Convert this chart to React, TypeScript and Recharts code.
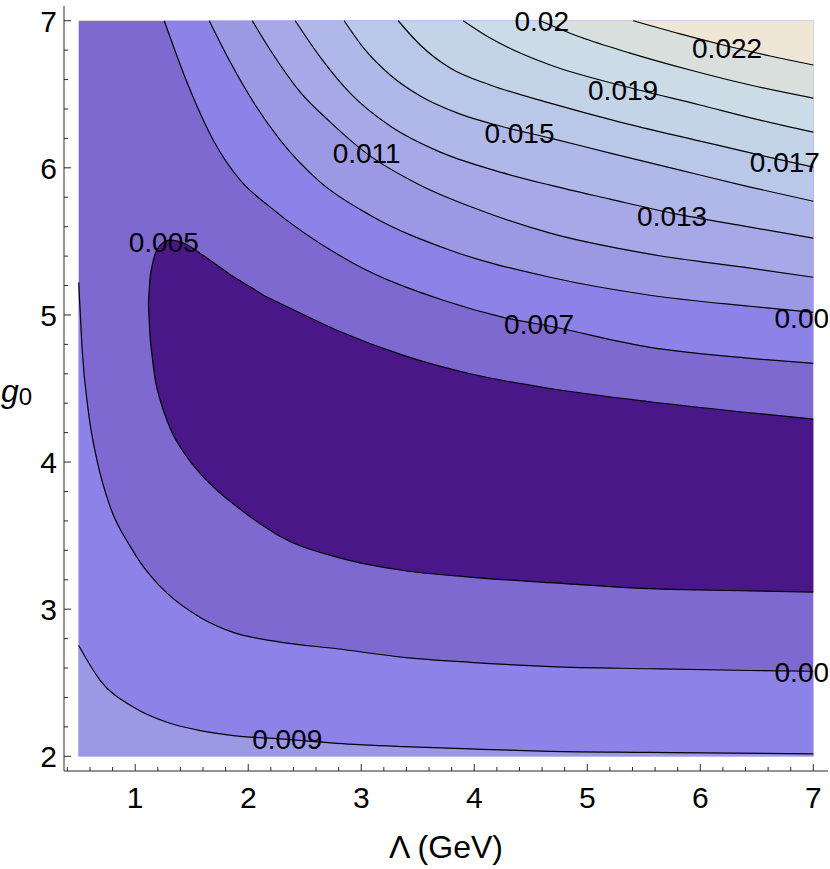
import React from 'react';
import { ComposedChart, Area, Scatter, XAxis, YAxis } from 'recharts';

const FONT = '"Liberation Sans", Arial, Helvetica, sans-serif';
const FRAME = '#2a2a2a';
const LINE = '#000000';

// ---- axes ----
const lambdaDomain: [number, number] = [0.37, 7.13];
const g0Domain: [number, number] = [1.9, 7.1];
const lambdaTicks = [0.4, 0.6, 0.8, 1, 1.2, 1.4, 1.6, 1.8, 2, 2.2, 2.4, 2.6, 2.8, 3, 3.2, 3.4, 3.6, 3.8, 4, 4.2, 4.4, 4.6, 4.8, 5, 5.2, 5.4, 5.6, 5.8, 6, 6.2, 6.4, 6.6, 6.8, 7];
const g0Ticks = [2, 2.2, 2.4, 2.6, 2.8, 3, 3.2, 3.4, 3.6, 3.8, 4, 4.2, 4.4, 4.6, 4.8, 5, 5.2, 5.4, 5.6, 5.8, 6, 6.2, 6.4, 6.6, 6.8, 7];
const lambdaLabels = [1, 2, 3, 4, 5, 6, 7];
const g0Labels = [2, 3, 4, 5, 6, 7];

// plotted rectangle (Λ from 0.5 to 7, g0 from 2 to 7)
const plotTopEdge = [[0.5, 7], [7, 7]];
const plotBottom = 2;
const plotTop = 7;

// ---- band colours, from lowest (inside 0.005) to highest ----
const bandColors = ['#4a1789', '#7e69d0', '#8c82e7', '#9b99e4', '#a6a8e8', '#afb8e9', '#b9c7e9', '#c4d4e8', '#ccdce6', '#d9dfdc', '#efe6d6'];

// ---- 0.005 closed contour (upper and lower branch at common Λ) ----
const loopLambda = [1.117, 1.13, 1.148, 1.178, 1.222, 1.31, 1.45, 1.576, 1.75, 1.87, 2.02, 2.17, 2.28, 2.785, 3.374, 3.964, 4.672, 5.556, 6.441, 7.0];
const loopUpper = [5.08, 5.24, 5.327, 5.42, 5.474, 5.508, 5.48, 5.418, 5.324, 5.259, 5.19, 5.12, 5.08, 4.896, 4.725, 4.6, 4.5, 4.41, 4.335, 4.292];
const loopLower = [5.08, 4.87, 4.73, 4.556, 4.42, 4.228, 4.043, 3.921, 3.79, 3.715, 3.627, 3.548, 3.495, 3.354, 3.263, 3.218, 3.18, 3.139, 3.125, 3.116];

// ---- lower contours ----
const lower007 = [[0.5, 5.22], [0.529, 4.782], [0.588, 4.329], [0.662, 4.011], [0.78, 3.692], [0.956, 3.427], [1.045, 3.318], [1.133, 3.23], [1.284, 3.107], [1.576, 2.944], [1.868, 2.842], [2.283, 2.776], [2.785, 2.731], [3.374, 2.673], [3.964, 2.639], [4.672, 2.61], [5.556, 2.595], [6.441, 2.583], [7, 2.578]];
const lower009 = [[0.5, 2.753], [0.691, 2.515], [0.986, 2.333], [1.281, 2.231], [1.576, 2.175], [1.87, 2.141], [2.283, 2.118], [2.785, 2.088], [3.374, 2.066], [3.964, 2.05], [4.672, 2.034], [5.556, 2.027], [7, 2.016]];

// ---- upper contours (fan towards the top-right corner) ----
const upper007 = [[1.257, 7], [1.461, 6.576], [1.691, 6.188], [1.929, 5.916], [2.195, 5.733], [2.929, 5.352], [3.725, 5.1], [4.256, 4.984], [4.672, 4.923], [5.556, 4.78], [6.441, 4.705], [7, 4.671]];
const upper009 = [[1.655, 7], [1.841, 6.719], [2.062, 6.427], [2.283, 6.188], [2.637, 5.903], [3.079, 5.678], [3.787, 5.44], [4.672, 5.256], [5.556, 5.134], [6.441, 5.059], [7, 5.018]];
const upper011 = [[2.036, 7], [2.195, 6.801], [2.46, 6.515], [2.726, 6.311], [3.044, 6.1], [3.522, 5.882], [4.052, 5.712], [4.672, 5.556], [5.556, 5.413], [6.441, 5.318], [7, 5.256]];
const upper013 = [[2.416, 7], [2.637, 6.753], [2.902, 6.508], [3.256, 6.284], [3.699, 6.107], [4.141, 5.991], [4.672, 5.882], [5.202, 5.787], [5.751, 5.692], [6.441, 5.597], [7, 5.522]];
const upper015 = [[2.849, 7], [3.035, 6.801], [3.256, 6.631], [3.522, 6.488], [3.876, 6.365], [4.229, 6.284], [4.672, 6.202], [5.202, 6.1], [5.821, 5.984], [6.441, 5.869], [7, 5.773]];
const upper017 = [[3.327, 7], [3.522, 6.835], [3.787, 6.678], [4.141, 6.563], [4.672, 6.44], [5.291, 6.311], [5.998, 6.182], [6.529, 6.086], [7, 6.005]];
const upper019 = [[3.902, 7], [4.141, 6.882], [4.406, 6.78], [4.672, 6.699], [5.317, 6.556], [5.998, 6.427], [6.529, 6.324], [7, 6.243]];
const upper021 = [[4.583, 7], [4.937, 6.889], [5.379, 6.78], [5.91, 6.665], [6.441, 6.563], [7, 6.474]];
const upper023 = [[5.406, 7], [5.821, 6.91], [6.237, 6.828], [6.618, 6.76], [7, 6.699]];

// ---- contour labels (text, Λ, g0 of the label centre) ----
const labelTexts = ['0.005', '0.011', '0.015', '0.013', '0.019', '0.017', '0.022', '0.02', '0.007', '0.009', '0.007', '0.009'];
const labelLambda = [1.253, 3.048, 4.4, 5.751, 5.317, 6.748, 6.237, 4.597, 4.574, 6.967, 6.967, 2.345];
const labelG0 = [5.495, 6.1, 6.236, 5.672, 6.529, 6.039, 6.818, 6.998, 4.937, 4.98, 2.576, 2.115];

// ---- tables built from the arrays ----
const toPts = (pts: number[][]) => pts.map(([x, y]) => ({ x, y }));
const baseRect = toPts(plotTopEdge);
const loopData = loopLambda.map((x, i) => ({ x, range: [loopLower[i], loopUpper[i]] }));
const upperCurves = [upper007, upper009, upper011, upper013, upper015, upper017, upper019, upper021, upper023];
const labelData = labelTexts.map((text, i) => ({ x: labelLambda[i], y: labelG0[i], text }));

const isMajor = (v: number) => Math.abs(v - Math.round(v)) < 1e-6;
const MAJOR = 7;
const MINOR = 4;
const TICK_FONT = 30;

function BottomTick(props: any) {
  const { x, y, payload } = props;
  const v = payload.value;
  const major = isMajor(v);
  return (
    <g>
      <line x1={x} x2={x} y1={y} y2={y - (major ? MAJOR : MINOR)} stroke={FRAME} strokeWidth={1} />
      {major && lambdaLabels.includes(Math.round(v)) && (
        <text x={x} y={y + 37} textAnchor="middle" fontSize={TICK_FONT} fontFamily={FONT} fill="#000">
          {Math.round(v)}
        </text>
      )}
    </g>
  );
}

function TopTick(props: any) {
  const { x, y, payload } = props;
  const major = isMajor(payload.value);
  return <line x1={x} x2={x} y1={y} y2={y + (major ? MAJOR : MINOR)} stroke={FRAME} strokeWidth={1} />;
}

function LeftTick(props: any) {
  const { x, y, payload } = props;
  const v = payload.value;
  const major = isMajor(v);
  return (
    <g>
      <line x1={x} x2={x + (major ? MAJOR : MINOR)} y1={y} y2={y} stroke={FRAME} strokeWidth={1} />
      {major && g0Labels.includes(Math.round(v)) && (
        <text x={x - 7} y={y + 11} textAnchor="end" fontSize={TICK_FONT} fontFamily={FONT} fill="#000">
          {Math.round(v)}
        </text>
      )}
    </g>
  );
}

function RightTick(props: any) {
  const { x, y, payload } = props;
  const major = isMajor(payload.value);
  return <line x1={x} x2={x - (major ? MAJOR : MINOR)} y1={y} y2={y} stroke={FRAME} strokeWidth={1} />;
}

function XTitle(props: any) {
  const vb = props.viewBox || { x: 64, y: 771, width: 764, height: 98 };
  return (
    <text x={vb.x + vb.width / 2} y={vb.y + 87} textAnchor="middle" fontSize={32} fontFamily={FONT} fill="#000">
      Λ (GeV)
    </text>
  );
}

function YTitle(props: any) {
  const vb = props.viewBox || { x: 0, y: 6, width: 64, height: 765 };
  return (
    <text x={vb.x + 1} y={vb.y + vb.height / 2 + 13} fontSize={32} fontFamily={FONT} fill="#000">
      <tspan fontStyle="italic">g</tspan>
      <tspan fontSize={24} dy={3}>0</tspan>
    </text>
  );
}

function LabelShape(props: any) {
  const { cx, cy, payload } = props;
  return (
    <text x={cx} y={cy} dy="0.36em" textAnchor="middle" fontSize={28} fontFamily={FONT} fill="#000">
      {payload.text}
    </text>
  );
}

export default function App() {
  return (
    <div style={{ position: 'absolute', left: 0, top: 0, width: 830, height: 869, overflow: 'hidden', background: '#ffffff' }}>
      <ComposedChart width={830} height={869} margin={{ top: 6, right: 2, bottom: 0, left: 0 }}>
        <XAxis
          dataKey="x"
          type="number"
          domain={lambdaDomain}
          allowDataOverflow
          ticks={lambdaTicks}
          interval={0}
          height={98}
          tickSize={0}
          tickMargin={0}
          tickLine={false}
          axisLine={{ stroke: FRAME, strokeWidth: 1 }}
          tick={BottomTick}
          label={{ content: XTitle }}
        />
        <XAxis
          xAxisId="top"
          orientation="top"
          type="number"
          domain={lambdaDomain}
          allowDataOverflow
          ticks={lambdaTicks}
          interval={0}
          height={0}
          tickSize={0}
          tickMargin={0}
          tickLine={false}
          axisLine={{ stroke: FRAME, strokeWidth: 1 }}
          tick={TopTick}
        />
        <YAxis
          dataKey="y"
          type="number"
          domain={g0Domain}
          allowDataOverflow
          ticks={g0Ticks}
          interval={0}
          width={64}
          tickSize={0}
          tickMargin={0}
          tickLine={false}
          axisLine={{ stroke: FRAME, strokeWidth: 1 }}
          tick={LeftTick}
          label={{ content: YTitle }}
        />
        <YAxis
          yAxisId="right"
          orientation="right"
          type="number"
          domain={g0Domain}
          allowDataOverflow
          ticks={g0Ticks}
          interval={0}
          width={0}
          tickSize={0}
          tickMargin={0}
          tickLine={false}
          axisLine={{ stroke: FRAME, strokeWidth: 1 }}
          tick={RightTick}
        />

        {/* base band 0.005–0.007 over the whole plotted rectangle */}
        <Area data={baseRect} dataKey="y" type="linear" baseValue={plotBottom} fill={bandColors[1]} fillOpacity={1} stroke="none" isAnimationActive={false} dot={false} activeDot={false} />
        {/* inside the 0.005 contour */}
        <Area data={loopData} dataKey="range" type="monotone" fill={bandColors[0]} fillOpacity={1} stroke={LINE} strokeWidth={1.2} isAnimationActive={false} dot={false} activeDot={false} />
        {/* below the lower 0.007 and 0.009 contours */}
        <Area data={toPts(lower007)} dataKey="y" type="monotone" baseValue={plotBottom} fill={bandColors[2]} fillOpacity={1} stroke={LINE} strokeWidth={1.2} isAnimationActive={false} dot={false} activeDot={false} />
        <Area data={toPts(lower009)} dataKey="y" type="monotone" baseValue={plotBottom} fill={bandColors[3]} fillOpacity={1} stroke={LINE} strokeWidth={1.2} isAnimationActive={false} dot={false} activeDot={false} />
        {/* above the upper contours */}
        {upperCurves.map((c, i) => (
          <Area key={i} data={toPts(c)} dataKey="y" type="monotone" baseValue={plotTop} fill={bandColors[i + 2]} fillOpacity={1} stroke={LINE} strokeWidth={1.2} isAnimationActive={false} dot={false} activeDot={false} />
        ))}
        <Scatter data={labelData} dataKey="y" shape={LabelShape} isAnimationActive={false} />
      </ComposedChart>
    </div>
  );
}
